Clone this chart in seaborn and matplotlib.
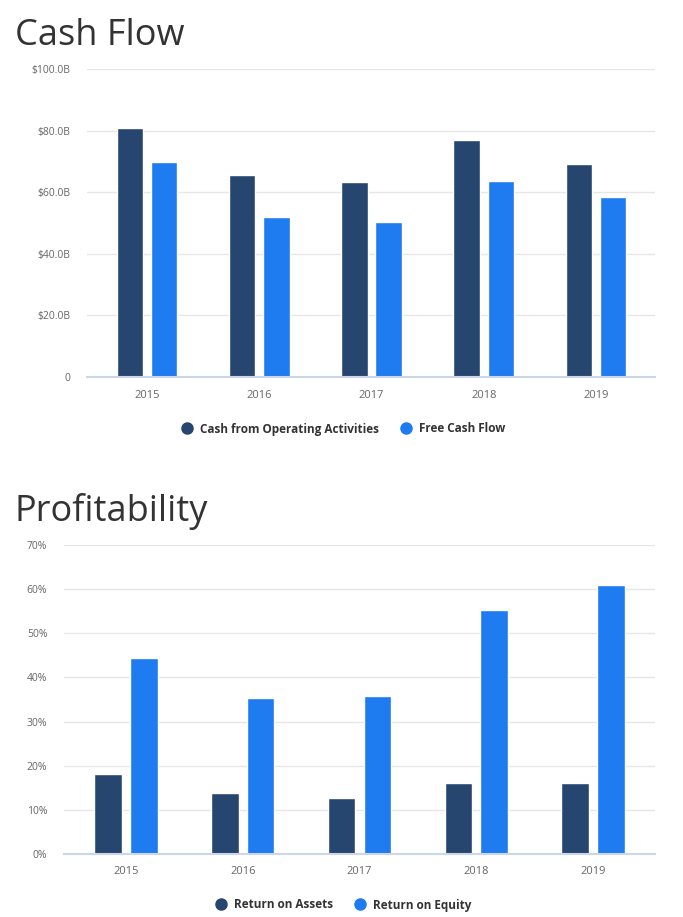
import matplotlib
matplotlib.use("Agg")
import matplotlib.pyplot as plt
from matplotlib.lines import Line2D
import seaborn as sns
import pandas as pd

years = ["2015", "2016", "2017", "2018", "2019"]
cfo = [80.8, 65.5, 63.2, 76.9, 69.0]
fcf = [69.8, 51.8, 50.2, 63.5, 58.3]
roa = [18.2, 13.9, 12.7, 16.1, 16.1]
roe = [44.5, 35.4, 35.9, 55.2, 60.9]
cash_names = ["Cash from Operating Activities", "Free Cash Flow"]
prof_names = ["Return on Assets", "Return on Equity"]
cash_ticks = [0, 20, 40, 60, 80, 100]
cash_tick_labels = ["0", "$20.0B", "$40.0B", "$60.0B", "$80.0B", "$100.0B"]
prof_ticks = [0, 10, 20, 30, 40, 50, 60, 70]
prof_tick_labels = ["0%", "10%", "20%", "30%", "40%", "50%", "60%", "70%"]

DARK = "#26466F"
BLUE = "#1E7CF0"
GRID = "#E6E6E6"
AXIS = "#CCD6EB"
TXT = "#666666"
TITLE = "#333333"

sns.set_theme(style="white")
plt.rcParams["font.family"] = ["Open Sans", "DejaVu Sans"]

df1 = pd.DataFrame({
    "year": years * 2,
    "value": cfo + fcf,
    "series": [cash_names[0]] * 5 + [cash_names[1]] * 5,
})
df2 = pd.DataFrame({
    "year": years * 2,
    "value": roa + roe,
    "series": [prof_names[0]] * 5 + [prof_names[1]] * 5,
})

fig = plt.figure(figsize=(6.83, 9.17), dpi=100)
ax1 = fig.add_axes([87 / 683, 1 - 377 / 917, (655 - 87) / 683, (377 - 69) / 917])
ax2 = fig.add_axes([64 / 683, 1 - 854 / 917, (655 - 64) / 683, (854 - 545) / 917])


def style(ax, df, names, ticks, labels, ymax, xl, xr):
    sns.barplot(data=df, x="year", y="value", hue="series", hue_order=names,
                palette=[DARK, BLUE], width=0.61, gap=0.23, saturation=1,
                legend=False, ax=ax, zorder=3)
    ax.set_ylim(0, ymax)
    ax.set_xlim(xl, xr)
    ax.set_yticks(ticks)
    ax.set_yticklabels(labels, color=TXT, fontsize=7.5)
    ax.tick_params(axis="y", length=0, pad=12)
    ax.tick_params(axis="x", length=6, width=1, color=AXIS, colors=TXT,
                   labelsize=8, pad=3, direction="out")
    ax.set_xlabel("")
    ax.set_ylabel("")
    ax.grid(axis="y", color=GRID, linewidth=1, zorder=0)
    ax.set_axisbelow(True)
    for s in ["top", "right", "left"]:
        ax.spines[s].set_visible(False)
    ax.spines["bottom"].set_color(AXIS)
    ax.spines["bottom"].set_linewidth(1.5)
    ax.spines["bottom"].set_zorder(4)


style(ax1, df1, cash_names, cash_ticks, cash_tick_labels, 100, -0.535, 4.526)
style(ax2, df2, prof_names, prof_ticks, prof_tick_labels, 70, -0.531, 4.531)

fig.text(15 / 683, 1 - 45 / 917, "Cash Flow", fontsize=26, color=TITLE,
         ha="left", va="baseline")
fig.text(15 / 683, 1 - 521 / 917, "Profitability", fontsize=26, color=TITLE,
         ha="left", va="baseline")


def legend(names, ycenter):
    handles = [Line2D([], [], marker="o", linestyle="", markersize=8,
                      markerfacecolor=c, markeredgecolor=c) for c in [DARK, BLUE]]
    fig.legend(handles, names, loc="center", bbox_to_anchor=(343 / 683, 1 - ycenter / 917),
               ncol=2, frameon=False, handletextpad=0.6, columnspacing=1.8,
               prop={"weight": "bold", "size": 8.5}, labelcolor=TITLE,
               handlelength=1.0)


legend(cash_names, 429)
legend(prof_names, 905)

fig.savefig("out.png", dpi=100, facecolor="white")
